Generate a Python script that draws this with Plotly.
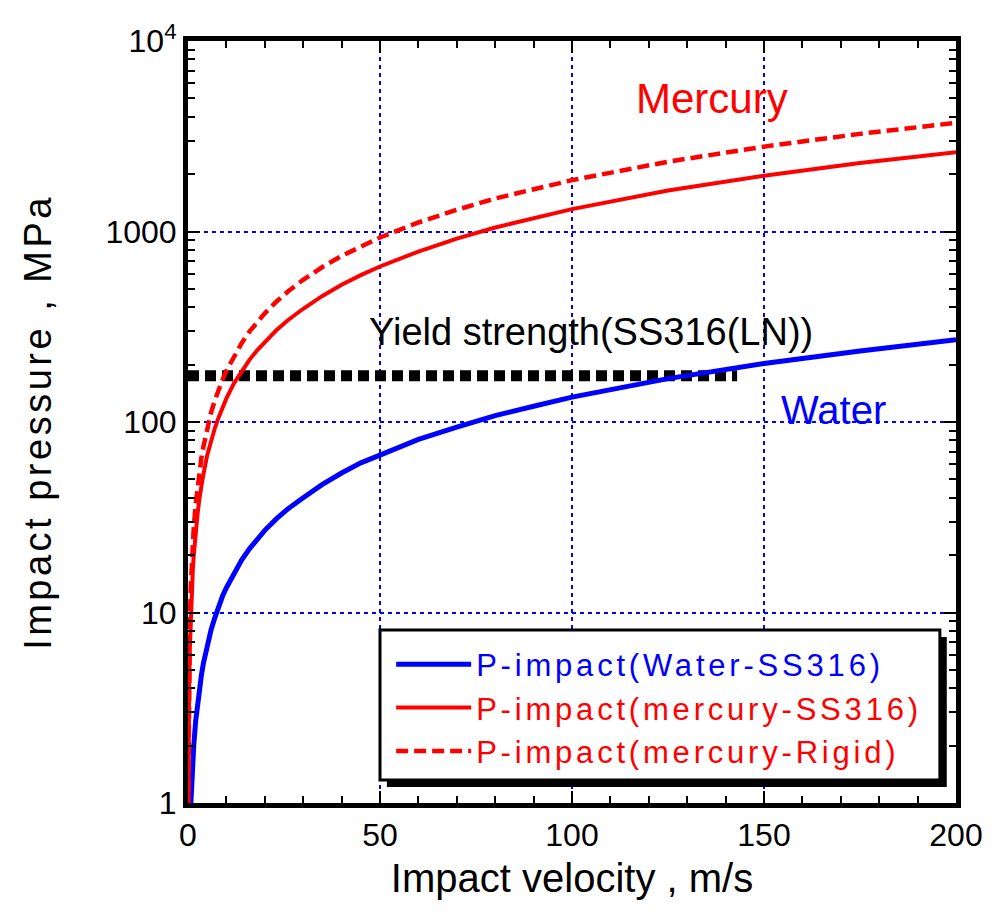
import plotly.graph_objects as go

# Impact velocity (m/s) and impact pressure (MPa) for each material pair
velocity = [0.05, 0.1, 0.2, 0.3, 0.5, 0.75, 1, 1.25, 1.5, 2, 2.5, 3, 3.5, 4, 5,
            6, 7, 8, 9, 10, 12, 14, 16, 18, 20, 23, 26, 30, 35, 40, 45, 50,
            60, 70, 80, 90, 100, 125, 150, 175, 200]
p_water_ss316 = [0.068, 0.135, 0.27, 0.405, 0.68, 1.0, 1.35, 1.7, 2.0, 2.7, 3.4,
                 4.05, 4.7, 5.4, 6.8, 8.1, 9.4, 10.8, 12.2, 13.5, 16.2, 18.9,
                 21.6, 24.3, 27, 31, 35, 40, 47, 54, 61, 67, 81, 94, 108, 121,
                 135, 169, 203, 236, 270]
p_mercury_ss316 = [0.67, 1.33, 2.7, 4.0, 6.7, 10, 13.3, 16.6, 20, 27, 33, 40,
                   47, 53, 67, 80, 93, 106, 120, 133, 160, 186, 212, 238, 264,
                   303, 342, 393, 459, 525, 590, 655, 785, 917, 1050, 1180,
                   1310, 1640, 1960, 2290, 2610]
p_mercury_rigid = [0.93, 1.86, 3.7, 5.6, 9.3, 14, 18.6, 23, 28, 37, 46, 56, 65,
                   74, 93, 112, 130, 149, 167, 186, 223, 260, 298, 335, 372,
                   428, 484, 558, 651, 744, 837, 930, 1115, 1300, 1490, 1675,
                   1860, 2325, 2790, 3255, 3720]

# Yield strength of SS316(LN)
yield_velocity = [0, 143]
yield_pressure = [175, 175]

x_ticks = [0, 50, 100, 150, 200]
y_ticks = [1, 10, 100, 1000, 10000]
y_tick_text = ["1", "10", "100", "1000", "10<sup>4</sup>"]
y_minor = [m * 10 ** d for d in range(4) for m in range(2, 10)]

BLUE = "#0000ff"
RED = "#ff0000"
FONT = "Liberation Sans, Arial, sans-serif"


def spaced(text, color, gap):
    return f'<span style="color:{color};letter-spacing:{gap}px">{text}</span>'


fig = go.Figure()

fig.add_trace(go.Scatter(
    x=yield_velocity, y=yield_pressure, mode="lines", showlegend=False,
    line=dict(color="black", width=11, dash="11px,6px"), hoverinfo="skip"))

fig.add_trace(go.Scatter(
    x=velocity, y=p_water_ss316, mode="lines",
    name=spaced("P-impact(Water-SS316)", BLUE, 3.8),
    line=dict(color=BLUE, width=5)))
fig.add_trace(go.Scatter(
    x=velocity, y=p_mercury_ss316, mode="lines",
    name=spaced("P-impact(mercury-SS316)", RED, 3.8),
    line=dict(color=RED, width=4)))
fig.add_trace(go.Scatter(
    x=velocity, y=p_mercury_rigid, mode="lines",
    name=spaced("P-impact(mercury-Rigid)", RED, 3.8),
    line=dict(color=RED, width=4.5, dash="12px,6px")))

axis_common = dict(
    showline=True, linewidth=5, linecolor="black", mirror="allticks",
    ticks="inside", ticklen=12, tickwidth=2, tickcolor="black",
    showgrid=True, gridcolor=BLUE, gridwidth=2, griddash="4px,4px",
    zeroline=False, tickfont=dict(family=FONT, size=32, color="black"),
)

fig.update_xaxes(
    range=[0, 200], tickmode="array", tickvals=x_ticks,
    minor=dict(dtick=10, ticks="inside", ticklen=7, tickwidth=2,
               tickcolor="black", showgrid=False),
    title=dict(text="Impact velocity , m/s",
               font=dict(family=FONT, size=40, color="black"), standoff=13),
    **axis_common)

fig.update_yaxes(
    type="log", range=[0, 4], tickmode="array", tickvals=y_ticks,
    ticktext=y_tick_text,
    minor=dict(tickmode="array", tickvals=y_minor, ticks="inside", ticklen=7,
               tickwidth=2, tickcolor="black", showgrid=False),
    title=dict(text=spaced("Impact pressure , MPa", "black", 3.5),
               font=dict(family=FONT, size=38, color="black"), standoff=44),
    **axis_common)

fig.add_annotation(x=136.5, y=3.699, text="Mercury", showarrow=False,
                   font=dict(family=FONT, size=42, color=RED))
fig.add_annotation(x=168, y=2.064, text="Water", showarrow=False,
                   font=dict(family=FONT, size=40, color=BLUE))
fig.add_annotation(x=105, y=2.474, text="Yield strength(SS316(LN))",
                   showarrow=False, font=dict(family=FONT, size=38, color="black"))

# legend frame: drop shadow, then white box with black border
fig.add_shape(type="rect", xref="paper", yref="paper",
              x0=0.259, x1=0.988, y0=0.021, y1=0.218,
              fillcolor="black", line=dict(width=0), layer="above")
fig.add_shape(type="rect", xref="paper", yref="paper",
              x0=0.25, x1=0.979, y0=0.0302, y1=0.227,
              fillcolor="white", line=dict(color="black", width=3), layer="above")

fig.update_layout(
    width=996, height=922,
    margin=dict(l=188, r=40, t=41, b=119),
    plot_bgcolor="white", paper_bgcolor="white",
    font=dict(family=FONT, color="black"),
    legend=dict(x=0.2645, y=0.217, xanchor="left", yanchor="top",
                bgcolor="rgba(0,0,0,0)", borderwidth=0,
                font=dict(family=FONT, size=31), itemwidth=75,
                tracegroupgap=0),
)

fig.write_html("out.html")
